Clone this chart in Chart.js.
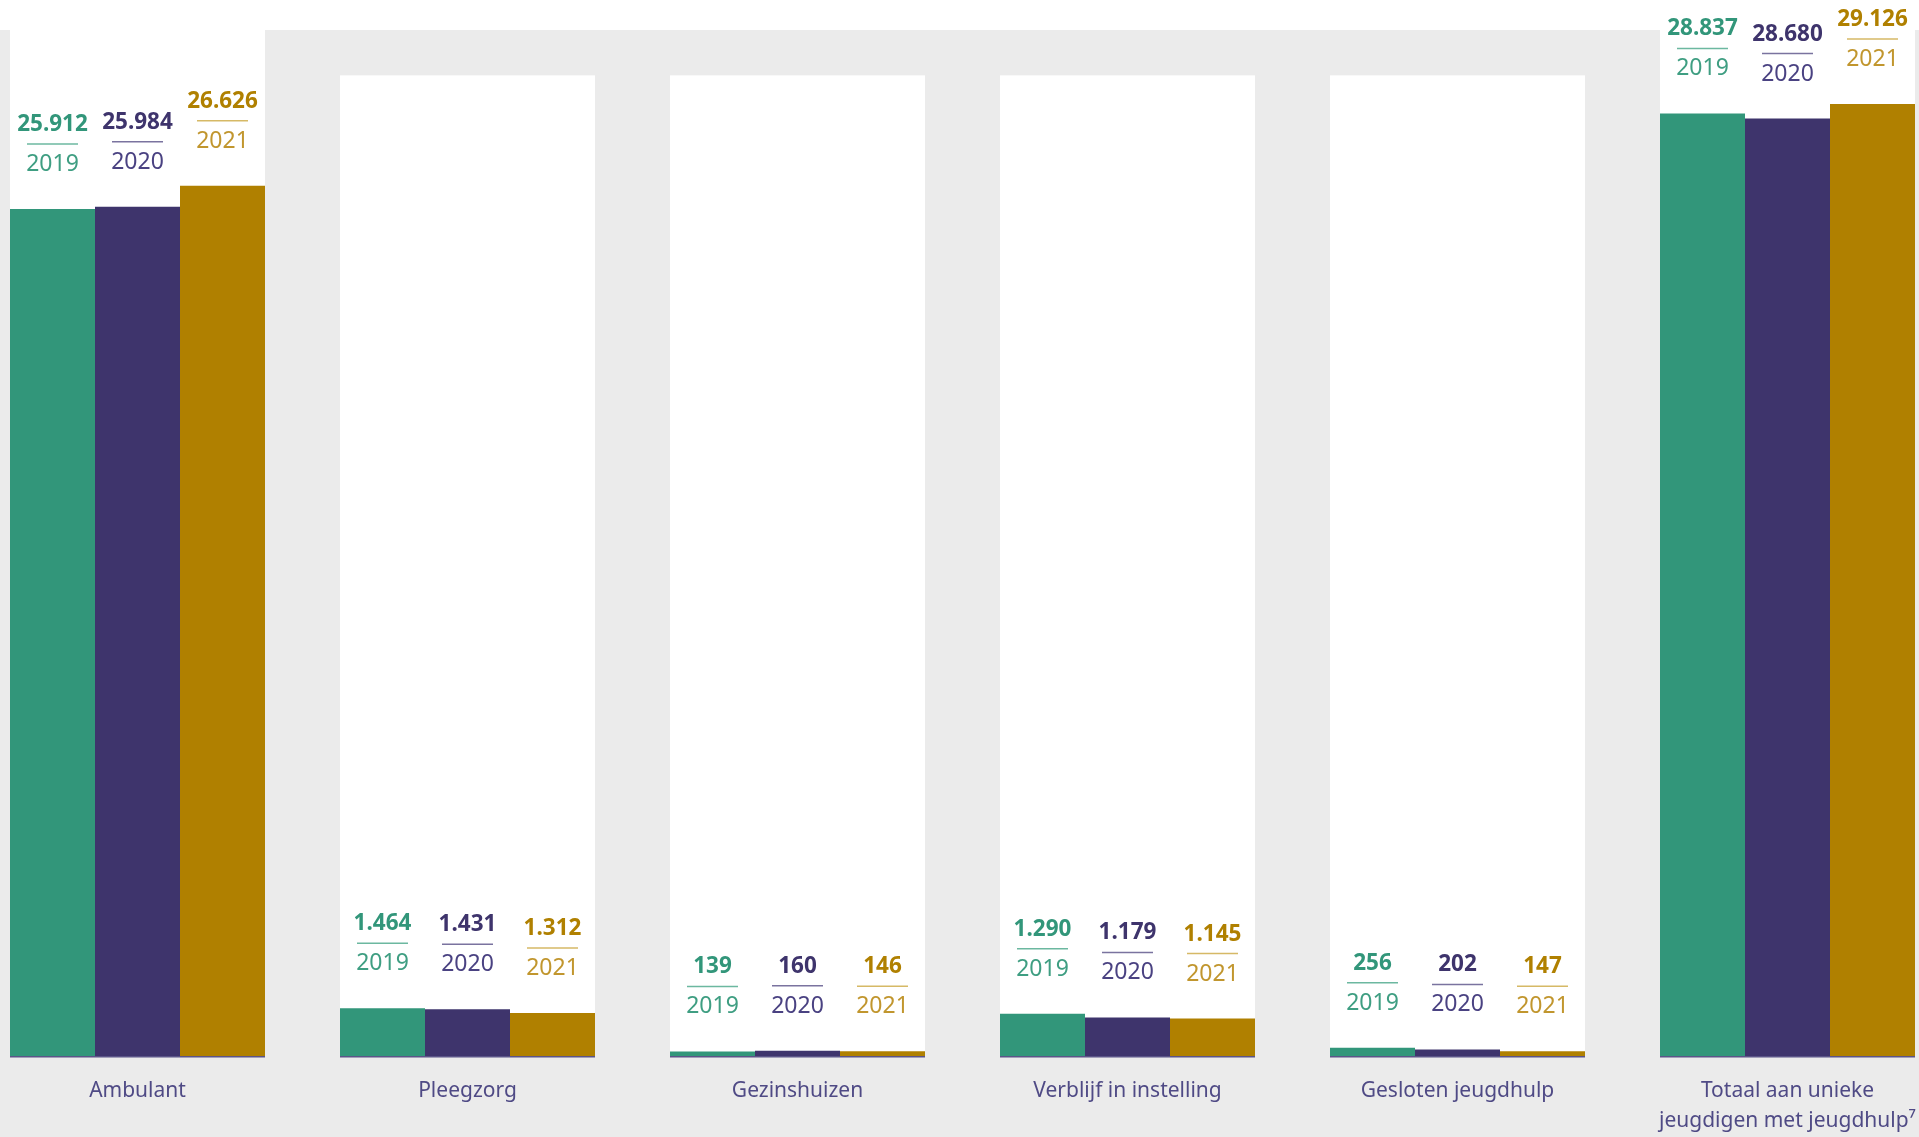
<!DOCTYPE html>
<html lang="nl">
<head>
<meta charset="utf-8">
<title>Jeugdhulp per vorm</title>
<script src="https://cdn.jsdelivr.net/npm/chart.js@4/dist/chart.umd.min.js"></script>
<style>
    html, body { margin: 0; padding: 0; background: #fff; overflow: hidden; }
    #wrap { position: relative; width: 1919px; height: 1137px; }
</style>
</head>
<body>
<div id="wrap"><canvas id="jeugdChart"></canvas></div>
<script>
// Data
const categorieen = [
    'Ambulant',
    'Pleegzorg',
    'Gezinshuizen',
    'Verblijf in instelling',
    'Gesloten jeugdhulp',
    ['Totaal aan unieke', 'jeugdigen met jeugdhulp⁷']
];
const jaren = ['2019', '2020', '2021'];
const waarden2019 = [25912, 1464, 139, 1290, 256, 28837];
const waarden2020 = [25984, 1431, 160, 1179, 202, 28680];
const waarden2021 = [26626, 1312, 146, 1145, 147, 29126];

// achtergrondvlak per categorie (null = tot bovenkant)
const vlakHoogte = [null, 30000, 30000, 30000, 30000, null];
const yMax = 32000;

// Kleuren
const cores = {
    groen: '#32967a',
    paars: '#3e346c',
    goud: '#b08000'
};
const lijnKleuren = ['#6cb8a0', '#7a739f', '#d6b966'];
const jaarKleuren = ['#3f9e82', '#4a4282', '#c1962e'];
const grijs = '#ebebeb';

Chart.defaults.font.family = "'Noto Sans', 'Open Sans', sans-serif";

function formatNL(v) {
    return String(v).replace(/\B(?=(\d{3})+(?!\d))/g, '.');
}

// achtergrond: wit boven, grijze band, witte vlakken achter de staven
const achtergrondPlugin = {
    id: 'achtergrond',
    beforeDraw(chart) {
        const ctx = chart.ctx;
        ctx.save();
        ctx.fillStyle = '#fff';
        ctx.fillRect(0, 0, chart.width, chart.height);
        ctx.fillStyle = grijs;
        ctx.fillRect(0, 30, chart.width, chart.height - 30);
        ctx.restore();
    },
    beforeDatasetsDraw(chart) {
        const ctx = chart.ctx;
        const y = chart.scales.y;
        const eerste = chart.getDatasetMeta(0).data;
        const laatste = chart.getDatasetMeta(2).data;
        ctx.save();
        ctx.fillStyle = '#fff';
        eerste.forEach((bar, i) => {
            const links = bar.x - bar.width / 2;
            const rechts = laatste[i].x + laatste[i].width / 2;
            const boven = vlakHoogte[i] === null ? 0 : y.getPixelForValue(vlakHoogte[i]);
            const onder = y.getPixelForValue(0);
            ctx.fillRect(links, boven, rechts - links, onder - boven);
        });
        ctx.restore();
    },
    afterDatasetsDraw(chart) {
        const ctx = chart.ctx;
        const y = chart.scales.y;
        const basis = y.getPixelForValue(0);
        const eerste = chart.getDatasetMeta(0).data;
        const laatste = chart.getDatasetMeta(2).data;
        ctx.save();

        // basislijn onder elke groep
        ctx.strokeStyle = '#5b5488';
        ctx.lineWidth = 1.5;
        eerste.forEach((bar, i) => {
            const links = bar.x - bar.width / 2;
            const rechts = laatste[i].x + laatste[i].width / 2;
            ctx.beginPath();
            ctx.moveTo(links, basis + 0.75);
            ctx.lineTo(rechts, basis + 0.75);
            ctx.stroke();
        });

        // waarde, streepje en jaartal boven elke staaf
        ctx.textAlign = 'center';
        ctx.textBaseline = 'alphabetic';
        chart.data.datasets.forEach((ds, d) => {
            const meta = chart.getDatasetMeta(d);
            meta.data.forEach((bar, i) => {
                const top = bar.y;
                ctx.fillStyle = ds.backgroundColor;
                ctx.font = "bold 22.5px 'Noto Sans', sans-serif";
                ctx.fillText(formatNL(ds.data[i]), bar.x, top - 78);

                ctx.strokeStyle = lijnKleuren[d];
                ctx.lineWidth = 1.5;
                ctx.beginPath();
                ctx.moveTo(bar.x - 25.5, top - 65);
                ctx.lineTo(bar.x + 25.5, top - 65);
                ctx.stroke();

                ctx.fillStyle = jaarKleuren[d];
                ctx.font = "23px 'Noto Sans', sans-serif";
                ctx.fillText(ds.label, bar.x, top - 38);
            });
        });
        ctx.restore();
    }
};

const ctx = document.getElementById('jeugdChart').getContext('2d');
const jeugdChart = new Chart(ctx, {
    type: 'bar',
    data: {
        labels: categorieen,
        datasets: [
            { label: jaren[0], data: waarden2019, backgroundColor: cores.groen },
            { label: jaren[1], data: waarden2020, backgroundColor: cores.paars },
            { label: jaren[2], data: waarden2021, backgroundColor: cores.goud }
        ]
    },
    options: {
        responsive: true,
        maintainAspectRatio: false,
        animation: false,
        datasets: {
            bar: {
                categoryPercentage: 255 / 330,
                barPercentage: 1,
                borderWidth: 0,
                clip: false
            }
        },
        layout: {
            padding: { top: 10, left: 137.5, right: 131.5, bottom: 0 }
        },
        plugins: {
            legend: { display: false },
            tooltip: { enabled: false }
        },
        scales: {
            x: {
                offset: false,
                grid: { display: false, drawTicks: false },
                border: { display: false },
                ticks: {
                    autoSkip: false,
                    maxRotation: 0,
                    padding: 20,
                    color: '#4f4a85',
                    font: { size: 21, lineHeight: '30px' }
                },
                afterFit(scale) {
                    scale.height = 81;
                    scale.paddingLeft = 0;
                    scale.paddingRight = 0;
                }
            },
            y: {
                display: false,
                min: 0,
                max: yMax
            }
        }
    },
    plugins: [achtergrondPlugin]
});
</script>
</body>
</html>
